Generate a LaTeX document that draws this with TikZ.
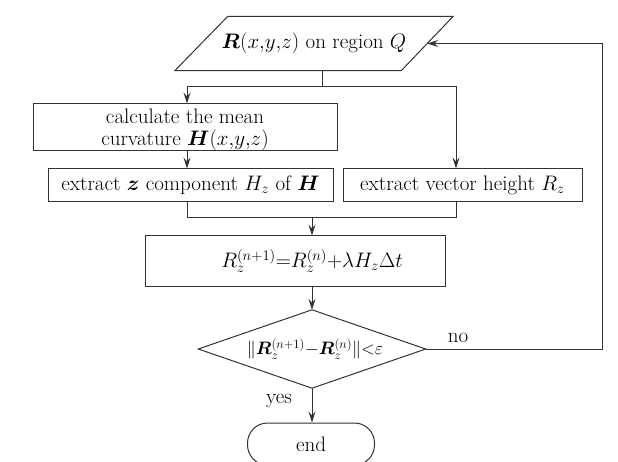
\RequirePackage{fix-cm}
\documentclass[tikz,border=0pt]{standalone}
\usepackage{bm}
\usetikzlibrary{arrows.meta,calc}
\begin{document}
\begin{tikzpicture}[x=1pt,y=-1pt,
 line/.style={draw=black!80,line width=1pt},
 arr/.style={line,-{Stealth[length=11pt,width=7pt,inset=4pt]}},
 box/.style={line,rectangle,inner sep=0pt,align=center},
 every node/.append style={font=\fontsize{21}{22.5}\selectfont}]
\useasboundingbox (0,0) rectangle (618,462);
% input parallelogram
\node[inner sep=0pt,minimum width=226pt,minimum height=54pt] (in) at (314,43.5) {$\bm{R}(x{,}y{,}z)$ on region $Q$};
\draw[line] ($(in.north west)+(27,0)$) -- ($(in.north east)+(26,0)$) -- ($(in.south east)+(-26,0)$) -- ($(in.south west)+(-26,0)$) -- cycle;
% boxes
\node[box,minimum width=304pt,minimum height=47pt] (c1) at (185,127.5) {calculate the mean\\curvature $\bm{H}\smash{(x{,}y{,}z)}$};
\node[box,minimum width=285pt,minimum height=33pt] (c2) at (190.5,185.5) {extract $\bm{z}$ component $H_z$ of $\bm{H}$};
\node[box,minimum width=239pt,minimum height=33pt] (c3) at (462.5,185.5) {extract vector height $R_z$};
\node[box,minimum width=300pt,minimum height=50pt] (c4) at (295,261) {\hspace*{34pt}$R_z^{(n+1)}{=}R_z^{(n)}{+}\lambda H_z\Delta t$};
\node[inner sep=0pt,minimum width=227pt,minimum height=78pt,font=\fontsize{18}{22}\selectfont] (d) at (312,349) {\hspace*{6pt}$\|\bm{R}_z^{(n+1)}{-}\bm{R}_z^{(n)}\|{<}\varepsilon$};
\draw[line] (d.west) -- (d.north) -- (d.east) -- (d.south) -- cycle;
\node[box,rounded corners=20pt,minimum width=127pt,minimum height=42pt] (e) at (311,444) {end};
% labels
\node (no) at (458,338) {no};
\node (yes) at (279,401) {yes};
% connectors
\coordinate (s1) at (322,87);
\coordinate (j1) at (187,87);
\coordinate (j2) at (456,87);
\draw[line] ($(in.south)+(8,0)$) -- (s1);
\draw[arr] (s1) -- (j1) -- (j1 |- c1.north);
\draw[arr] (s1) -- (j2) -- (j2 |- c3.north);
\draw[arr] (j1 |- c1.south) -- (j1 |- c2.north);
\coordinate (m1) at (187,218);
\coordinate (m2) at (456,218);
\coordinate (m) at (312,218);
\draw[line] (m1 |- c2.south) -- (m1) -- (m2) -- (m2 |- c3.south);
\draw[arr] (m) -- (m |- c4.north);
\draw[arr] (m |- c4.south) -- (d.north);
\draw[arr] (d.south) -- (d.south |- e.north);
\coordinate (r) at (602,349);
\draw[arr] (d.east) -- (r) |- (in.east);
\end{tikzpicture}
\end{document}
